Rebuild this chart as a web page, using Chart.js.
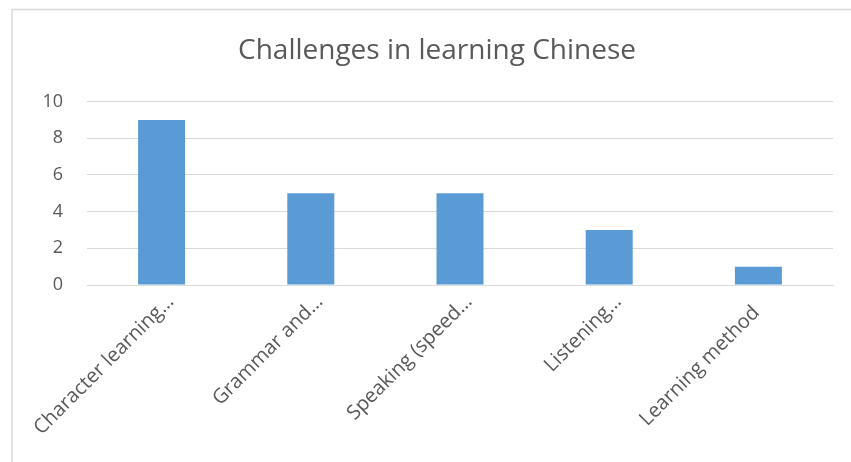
<!DOCTYPE html>
<html>
<head>
<meta charset="utf-8">
<script src="https://cdn.jsdelivr.net/npm/chart.js@4.4.1/dist/chart.umd.min.js"></script>
<style>
  html, body { margin: 0; padding: 0; background: #fff; }
  #wrap { position: relative; width: 851px; height: 462px; }
</style>
</head>
<body>
<div id="wrap"><canvas id="challengesChart" width="851" height="462"></canvas></div>
<script>
const categories = ['Character learning…', 'Grammar and…', 'Speaking (speed…', 'Listening…', 'Learning method'];
const counts = [9, 5, 5, 3, 1];
const yTicks = [0, 2, 4, 6, 8, 10];

const FONT = "'Open Sans', 'Liberation Sans', sans-serif";
const GREY_TEXT = '#595959';
const GRID = '#d9d9d9';

// light frame on the left and top edges, like the pasted Excel chart
const framePlugin = {
    id: 'frame',
    beforeDraw(chart) {
        const c = chart.ctx;
        c.save();
        c.fillStyle = '#fff';
        c.fillRect(0, 0, chart.width, chart.height);
        c.strokeStyle = GRID;
        c.lineWidth = 1.5;
        c.beginPath();
        c.moveTo(12, chart.height);
        c.lineTo(12, 9.5);
        c.lineTo(chart.width, 9.5);
        c.stroke();
        c.restore();
    }
};

document.addEventListener('DOMContentLoaded', () => {
    const ctx = document.getElementById('challengesChart').getContext('2d');

    new Chart(ctx, {
        type: 'bar',
        data: {
            labels: categories,
            datasets: [{
                data: counts,
                backgroundColor: '#5B9BD5',
                barPercentage: 0.315,
                categoryPercentage: 1
            }]
        },
        options: {
            responsive: false,
            animation: false,
            layout: {
                // left padding is wider so the title centres over the plot like Excel
                padding: { left: 41, right: 18, top: 9, bottom: 0 }
            },
            plugins: {
                legend: { display: false },
                tooltip: { enabled: false },
                title: {
                    display: true,
                    text: 'Challenges in learning Chinese',
                    color: GREY_TEXT,
                    font: { family: FONT, size: 28, weight: 'normal' },
                    padding: { top: 25, bottom: 34 }
                }
            },
            scales: {
                x: {
                    grid: { display: false },
                    border: { display: true, color: GRID, width: 1 },
                    ticks: {
                        color: GREY_TEXT,
                        font: { family: FONT, size: 20 },
                        minRotation: 45,
                        maxRotation: 45,
                        autoSkip: false,
                        padding: -3,
                        labelOffset: 9,
                        // full (not cut) labels sit a little further down the slope in Excel
                        callback: (v, i) => categories[i].endsWith('…') ? categories[i] : categories[i] + '   '
                    },
                    afterFit: s => { s.height = 177; }
                },
                y: {
                    min: 0,
                    max: 10,
                    afterBuildTicks: s => { s.ticks = yTicks.map(v => ({ value: v })); },
                    grid: { color: GRID, lineWidth: 1, drawTicks: false },
                    border: { display: false },
                    ticks: {
                        color: GREY_TEXT,
                        font: { family: FONT, size: 18 },
                        padding: 24
                    },
                    afterFit: s => { s.width = 46; }
                }
            }
        },
        plugins: [framePlugin]
    });
});
</script>
</body>
</html>
